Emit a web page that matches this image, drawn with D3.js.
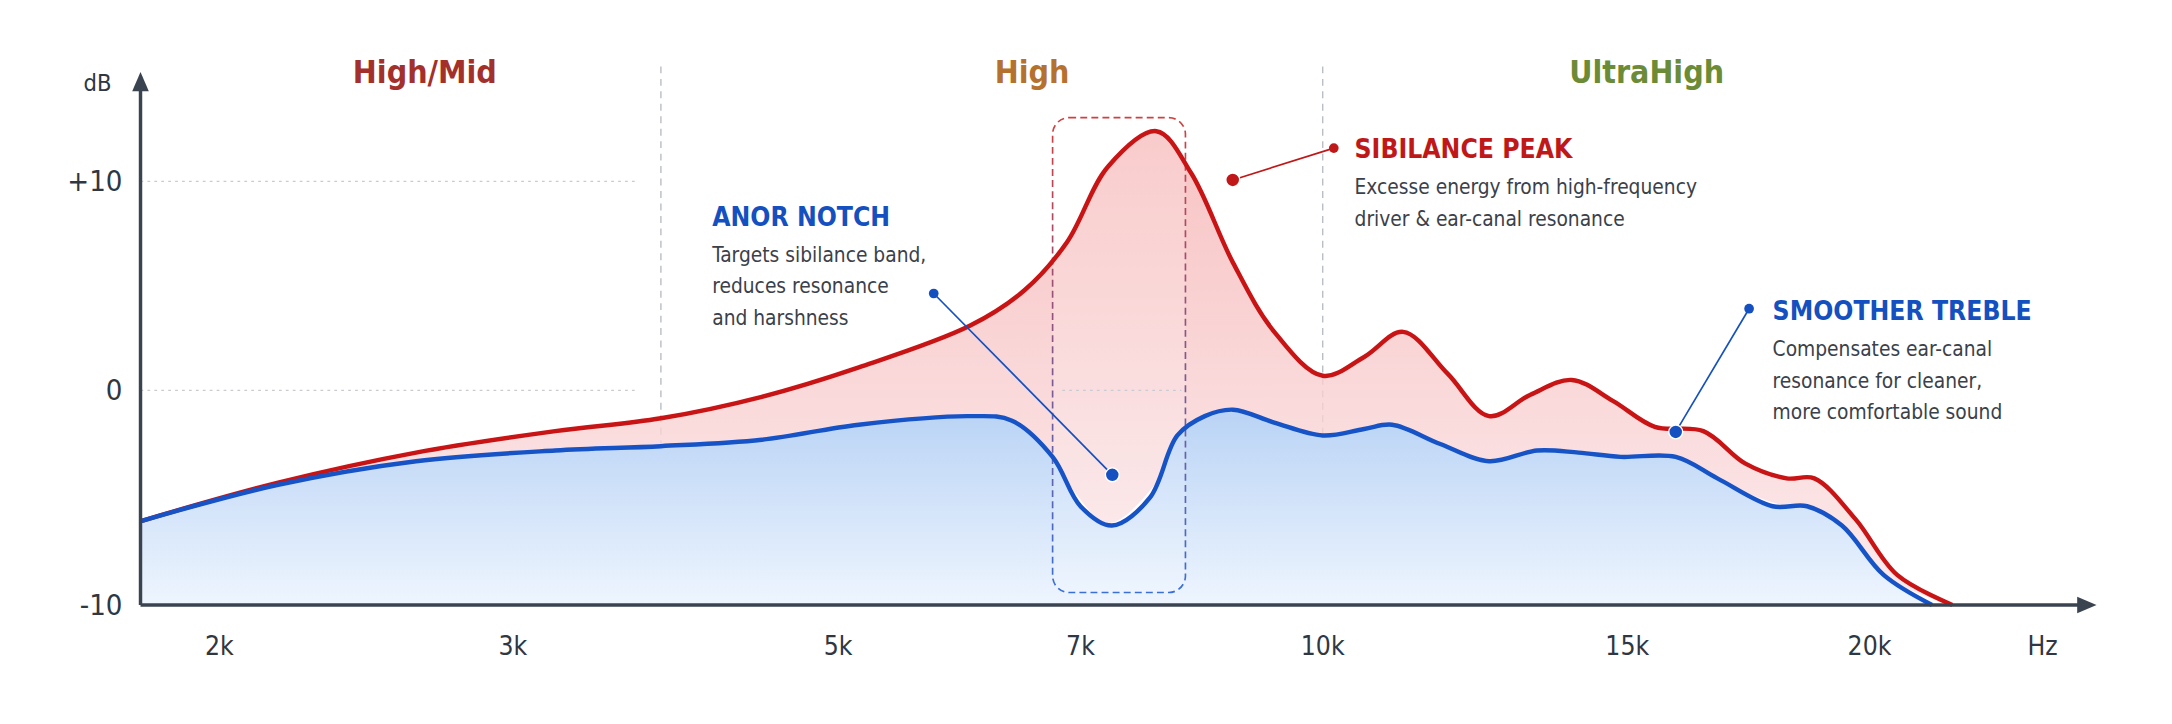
<!DOCTYPE html>
<html><head><meta charset="utf-8">
<script src="https://cdn.jsdelivr.net/npm/d3@7"></script>
<style>
body{margin:0;background:#fff;}
text{font-family:"DejaVu Sans Condensed","Roboto",sans-serif;}
</style></head>
<body>
<svg id="chart" width="2172" height="724" viewBox="0 0 1568 523"></svg>
<script>
// tick labels & positions
const freqTicks = [2, 3, 5, 7, 10, 15, 20];
const freqLabels = ["2k", "3k", "5k", "7k", "10k", "15k", "20k"];
const dbTicks = [-10, 0, 10];
const dbLabels = ["-10", "0", "+10"];
const bands = [{name: "High/Mid", kHz: 2.7, color: "#a3302b"},
               {name: "High", kHz: 6.6, color: "#b5722f"},
               {name: "UltraHigh", kHz: 15.4, color: "#6b8b36"}];
const dividers = [3.91, 10];

// response curves (kHz, dB)
const redF  = [1.73,2.2,2.67,3.26,3.91,4.53,5.17,6.09,6.54,6.89,7.34,7.94,8.37,8.89,9.4,10,10.68,11.32,12.05,12.73,13.41,14.09,14.77,15.57,16.57,17.43,18.29,18.86,19.71,20.57,21.71];
const redDb = [-6.1,-4.3,-2.9,-1.9,-1.3,-0.3,1.1,3.1,4.8,7.1,10.7,12.4,10.4,6.1,2.8,0.7,1.6,2.8,0.8,-1.2,-0.2,0.5,-0.5,-1.7,-1.9,-3.4,-4.1,-4.1,-6,-8.6,-10];
const blueF  = [1.73,2.2,2.67,3.26,3.91,4.53,5.17,6.09,6.43,6.77,7,7.39,7.86,8.2,8.54,8.89,9.4,10,10.68,11.14,11.93,12.73,13.52,14.2,14.89,16,16.86,18,18.71,19.43,20.29,21.29];
const blueDb = [-6.1,-4.4,-3.3,-2.8,-2.6,-2.3,-1.6,-1.2,-1.4,-3.1,-5.4,-6.3,-5,-2.1,-1.2,-0.9,-1.5,-2.1,-1.8,-1.6,-2.5,-3.3,-2.8,-2.9,-3.1,-3.1,-4.1,-5.4,-5.4,-6.3,-8.6,-10];

const svg = d3.select("#chart");
const x = d3.scaleLinear().domain(freqTicks).range([158, 370, 605, 780, 955, 1175, 1350]);
const y = d3.scaleLinear().domain(dbTicks).range([437, 282, 131]);

const red = redF.map((f, i) => ({f: f, v: redDb[i]}));
const blue = blueF.map((f, i) => ({f: f, v: blueDb[i]}));
const blueAt = f => {
  const i = d3.bisector(d => d.f).left(blue, f);
  if (i <= 0) return blue[0].v;
  if (i >= blue.length) return -10;
  const a = blue[i-1], b = blue[i];
  return a.v + (b.v - a.v) * (f - a.f) / (b.f - a.f);
};

const defs = svg.append("defs");
const g1 = defs.append("linearGradient").attr("id", "blueFill").attr("x1",0).attr("y1",0).attr("x2",0).attr("y2",1);
g1.append("stop").attr("offset","0%").attr("stop-color","#b9d3f5");
g1.append("stop").attr("offset","100%").attr("stop-color","#eef5fe");
const g2 = defs.append("linearGradient").attr("id", "redFill").attr("x1",0).attr("y1",0).attr("x2",0).attr("y2",1);
g2.append("stop").attr("offset","0%").attr("stop-color","#f6b4b4");
g2.append("stop").attr("offset","100%").attr("stop-color","#fbe6e8");
const g3 = defs.append("linearGradient").attr("id", "boxStroke").attr("x1",0).attr("y1",0).attr("x2",0).attr("y2",1);
g3.append("stop").attr("offset","0%").attr("stop-color","#d04040");
g3.append("stop").attr("offset","100%").attr("stop-color","#3a6fd6");

// gridlines
svg.selectAll(".grid").data([10, 0]).enter().append("line")
  .attr("x1", 101).attr("x2", 460).attr("y1", d => y(d)).attr("y2", d => y(d))
  .attr("stroke", "#c8ccd2").attr("stroke-dasharray", "2,3");
svg.selectAll(".div").data(dividers).enter().append("line")
  .attr("x1", d => x(d)).attr("x2", d => x(d)).attr("y1", 48).attr("y2", 437)
  .attr("stroke", "#b9bdc4").attr("stroke-dasharray", "5,4");

// fills
const curve = d3.curveCatmullRom.alpha(0.5);
svg.append("path").datum(red)
  .attr("d", d3.area().curve(curve).x(d => x(d.f)).y0(d => y(Math.min(d.v, blueAt(d.f)))).y1(d => y(d.v)))
  .attr("fill", "url(#redFill)").attr("opacity", 0.8);
svg.append("path").datum(blue)
  .attr("d", d3.area().curve(curve).x(d => x(d.f)).y0(y(-10)).y1(d => y(d.v)))
  .attr("fill", "url(#blueFill)");

// highlight box
svg.append("rect").attr("x", x(6.77)).attr("y", 85).attr("width", x(8.3) - x(6.77)).attr("height", 343)
  .attr("rx", 12).attr("fill", "#ffffff").attr("fill-opacity", 0.15)
  .attr("stroke", "url(#boxStroke)").attr("stroke-dasharray", "5,3").attr("stroke-width", 1.2);
svg.append("line").attr("x1", x(6.85)).attr("x2", x(8.25)).attr("y1", y(0)).attr("y2", y(0))
  .attr("stroke", "#c8ccd2").attr("stroke-dasharray", "2,3");

// lines
const line = d3.line().curve(curve).x(d => x(d.f)).y(d => y(d.v));
svg.append("path").datum(red).attr("d", line).attr("fill", "none").attr("stroke", "#c81414").attr("stroke-width", 3.2);
svg.append("path").datum(blue).attr("d", line).attr("fill", "none").attr("stroke", "#1553c7").attr("stroke-width", 3.2);

// axes
const ax = "#3a4350";
svg.append("line").attr("x1", 101).attr("x2", 1505).attr("y1", 437).attr("y2", 437).attr("stroke", ax).attr("stroke-width", 2.5);
svg.append("path").attr("d", "M1514,437 L1500,431 L1500,443 Z").attr("fill", ax);
svg.append("line").attr("x1", 101).attr("x2", 101).attr("y1", 62).attr("y2", 437).attr("stroke", ax).attr("stroke-width", 2.5);
svg.append("path").attr("d", "M101,52 L95,66 L107,66 Z").attr("fill", ax);
svg.append("text").attr("x", 70).attr("y", 66).attr("text-anchor", "middle").attr("font-size", 17).attr("fill", "#2f3742").text("dB");
svg.selectAll(".yl").data(dbTicks).enter().append("text")
  .attr("x", 88).attr("y", d => y(d) + 7).attr("text-anchor", "end").attr("font-size", 21).attr("fill", "#2f3742")
  .text((d, i) => dbLabels[i]);
svg.selectAll(".xl").data(freqTicks).enter().append("text")
  .attr("x", d => x(d)).attr("y", 473).attr("text-anchor", "middle").attr("font-size", 19).attr("fill", "#2f3742")
  .text((d, i) => freqLabels[i]);
svg.append("text").attr("x", 1475).attr("y", 473).attr("text-anchor", "middle").attr("font-size", 19).attr("fill", "#2f3742").text("Hz");

svg.selectAll(".band").data(bands).enter().append("text")
  .attr("x", d => x(d.kHz)).attr("y", 60).attr("text-anchor", "middle").attr("font-size", 23).attr("font-weight", "bold")
  .attr("fill", d => d.color).text(d => d.name);

// annotations
function note(dot, end, tx, ty, color, title, lines) {
  svg.append("line").attr("x1", dot[0]).attr("y1", dot[1]).attr("x2", end[0]).attr("y2", end[1]).attr("stroke", color).attr("stroke-width", 1.2);
  svg.append("circle").attr("cx", dot[0]).attr("cy", dot[1]).attr("r", 5).attr("fill", color).attr("stroke", "#fff").attr("stroke-width", 1);
  svg.append("circle").attr("cx", end[0]).attr("cy", end[1]).attr("r", 3.5).attr("fill", color);
  svg.append("text").attr("x", tx).attr("y", ty).attr("font-size", 19).attr("font-weight", "bold").attr("fill", color).text(title);
  svg.selectAll(null).data(lines).enter().append("text")
    .attr("x", tx).attr("y", (d, i) => ty + 26 + i * 23).attr("font-size", 15).attr("fill", "#3b414a").text(d => d);
}
note([890, 130], [963, 107], 978, 114, "#c01818", "SIBILANCE PEAK", ["Excesse energy from high-frequency", "driver & ear-canal resonance"]);
note([803, 343], [674, 212], 514, 163, "#1450c0", "ANOR NOTCH", ["Targets sibilance band,", "reduces resonance", "and harshness"]);
note([1210, 312], [1263, 223], 1280, 231, "#1450c0", "SMOOTHER TREBLE", ["Compensates ear-canal", "resonance for cleaner,", "more comfortable sound"]);
</script>
</body></html>
